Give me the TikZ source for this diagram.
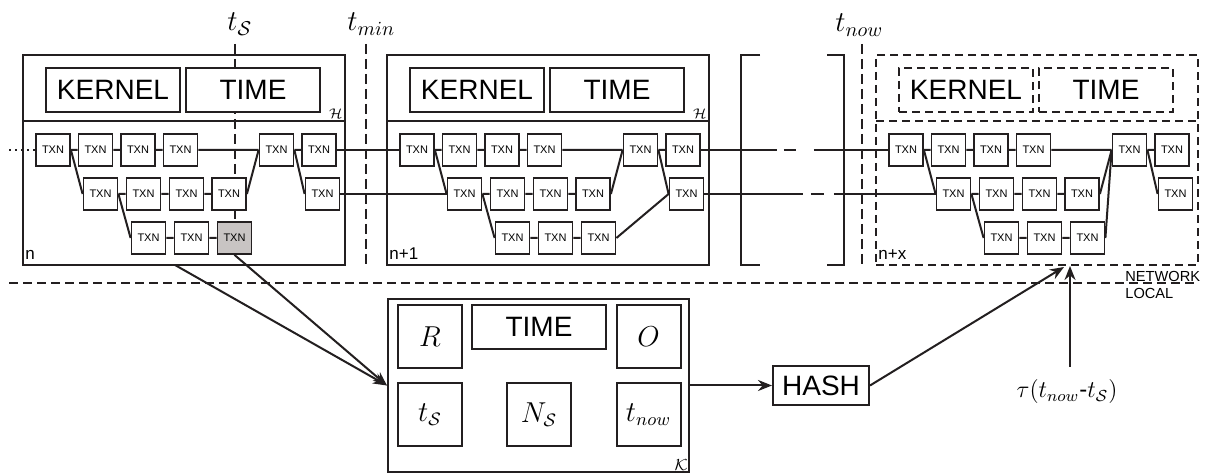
\documentclass[tikz,border=0pt]{standalone}
\usepackage{fontspec}
\setmainfont{Liberation Sans}
\usetikzlibrary{arrows.meta,backgrounds}

\definecolor{ink}{RGB}{35,31,32}
\definecolor{txngray}{RGB}{200,196,195}

\tikzset{
  wire/.style={draw=ink, line width=1pt},
  blockframe/.style={draw=ink, line width=1pt, inner sep=0pt},
  dblockframe/.style={blockframe, dash pattern=on 4pt off 2.5pt},
  hdbox/.style={blockframe, fill=white, minimum width=67pt, minimum height=22pt,
    font=\fontsize{14}{16}\selectfont},
  dhdbox/.style={hdbox, dash pattern=on 4pt off 2.5pt},
  txn/.style={blockframe, line width=0.9pt, fill=white, minimum width=17pt,
    minimum height=16pt, font=\fontsize{5.5}{6}\selectfont},
  txnshaded/.style={fill=txngray},
  txnplain/.style={},
  tline/.style={draw=ink, line width=1pt, dash pattern=on 5pt off 2.5pt},
  netline/.style={draw=ink, line width=1pt, dash pattern=on 4.5pt off 2.5pt},
  feed/.style={wire, -{Stealth[length=7pt,width=5.5pt]}},
  blabel/.style={inner xsep=1.5pt, inner ysep=3pt, font=\fontsize{8.5}{9}\selectfont},
  mlabel/.style={inner sep=1pt, font=\fontsize{7}{8}\selectfont},
  tlabel/.style={inner sep=0pt, font=\fontsize{14.5}{16}\selectfont},
  kbox/.style={blockframe, fill=white, minimum width=32pt, minimum height=31.5pt,
    font=\fontsize{13.5}{15}\selectfont},
}

% one block of the chain: frame, header boxes and the TXN graph
% #1 name prefix, #2 frame style, #3 header box style, #4 style of the last TXN
\newcommand\txnblock[4]{%
  \node[#2, minimum width=161pt, minimum height=105pt] (#1-frame) at (184,160) {};
  \draw[#2] (23,121) -- (345,121);
  \node[#3] (#1-kernel) at (113,90) {KERNEL};
  \node[#3] (#1-time) at (253,90) {TIME};
  \foreach \i/\x in {1/53,2/95.5,3/138,4/180.5,5/276.5,6/319}
    \node[txn] (#1-a\i) at (\x,150) {TXN};
  \foreach \i/\x in {1/100.5,2/143.5,3/186.5,4/229,5/322.5}
    \node[txn] (#1-b\i) at (\x,194) {TXN};
  \node[txn] (#1-c1) at (148.5,238) {TXN};
  \node[txn] (#1-c2) at (191.5,238) {TXN};
  \node[txn, #4] (#1-c3) at (234.5,238) {TXN};
  \draw[wire]
    (#1-a1.east) -- (#1-a2.west) (#1-a2.east) -- (#1-a3.west)
    (#1-a3.east) -- (#1-a4.west) (#1-a4.east) -- (#1-a5.west)
    (#1-a5.east) -- (#1-a6.west)
    (#1-b1.east) -- (#1-b2.west) (#1-b2.east) -- (#1-b3.west)
    (#1-b3.east) -- (#1-b4.west)
    (#1-c1.east) -- (#1-c2.west) (#1-c2.east) -- (#1-c3.west)
    (#1-a1.east) -- (#1-b1.west) (#1-b1.east) -- (#1-c1.west)
    (#1-b4.east) -- (#1-a5.west) (#1-a5.east) -- (#1-b5.west);
}

\begin{document}
\begin{tikzpicture}[x=0.5pt, y=-0.5pt]
\useasboundingbox (0,0) rectangle (1209,475);

% blocks n, n+1 and the pending block n+x
\txnblock{n}{blockframe}{hdbox}{txnshaded}
\begin{scope}[shift={(364,0)}]
  \txnblock{m}{blockframe}{hdbox}{txnplain}
\end{scope}
\begin{scope}[shift={(853,0)}]
  \txnblock{x}{dblockframe}{dhdbox}{txnplain}
\end{scope}

\node[blabel, anchor=south west] (n-name) at (n-frame.south west) {n};
\node[blabel, anchor=south west] (m-name) at (m-frame.south west) {n+1};
\node[blabel, anchor=south west] (x-name) at (x-frame.south west) {n+x};
\node[mlabel, anchor=south east] (n-hash) at (345,121) {$\mathcal{H}$};
\node[mlabel, anchor=south east] (m-hash) at (709,121) {$\mathcal{H}$};

% block specific links
\draw[wire] (m-c3.east) -- (m-b5.west);
\draw[wire] (x-c3.east) -- (x-a5.west);
\coordinate (past) at (9,150);
\draw[ink, line width=1pt, dotted] (past) -- (n-a1.west);
\draw[wire] (n-a6.east) -- (m-a1.west) (n-b5.east) -- (m-b1.west);
\draw[wire, dash pattern=on 38pt off 3.5pt on 6pt off 9pt on 200pt]
  (m-a6.east) -- (x-a1.west);
\draw[wire, dash pattern=on 49.25pt off 4pt on 6.5pt off 5pt on 200pt]
  (m-b5.east) -- (x-b1.west);

% elided blocks
\draw[wire] (760,55) -- (741,55) -- (741,265) -- (760,265);
\draw[wire] (827,55) -- (844,55) -- (844,265) -- (827,265);

% time marks
\node[tlabel, anchor=base west] (ts-label) at (227,31) {$t_{\mathcal{S}}$};
\node[tlabel, anchor=base west] (tmin-label) at (347,31) {$t_{min}$};
\node[tlabel, anchor=base west] (tnow-label) at (835,32) {$t_{now}$};
\coordinate (ts-top) at (234.5,44);
\coordinate (tmin-top) at (366,44);
\coordinate (tmin-bot) at (366,265);
\coordinate (tnow-top) at (862,44);
\coordinate (tnow-bot) at (862,265);
\draw[tline] (tmin-top) -- (tmin-bot);
\draw[tline] (tnow-top) -- (tnow-bot);
\begin{scope}[on background layer]
  \fill[white] (0,0) rectangle (1209,475);
  \draw[tline] (ts-top) -- (n-c3.north);
\end{scope}

% network / local split
\coordinate (split-l) at (9,283);
\coordinate (split-r) at (1198,283);
\draw[netline] (split-l) -- (split-r);
\node[inner sep=0pt, anchor=base west, font=\fontsize{7.3}{8}\selectfont]
  (net-label) at (1125,282) {NETWORK};
\node[inner sep=0pt, anchor=base west, font=\fontsize{7.3}{8}\selectfont]
  (loc-label) at (1125,299) {LOCAL};

% local kernel
\node[blockframe, minimum width=150.5pt, minimum height=86.5pt] (kap) at (538.5,385.5) {};
\node[kbox] (k-r) at (430,336.5) {$R$};
\node[hdbox] (k-time) at (539,327) {TIME};
\node[kbox] (k-o) at (648.5,336.5) {$O$};
\node[kbox] (k-ts) at (430,414.5) {$t_{\mathcal{S}}$};
\node[kbox] (k-ns) at (539,414.5) {$N_{\mathcal{S}}$};
\node[kbox] (k-tnow) at (648.5,414.5) {$t_{now}$};
\node[mlabel, anchor=south east, font=\fontsize{8}{9}\selectfont] (k-name) at (kap.south east) {$\mathcal{K}$};

\coordinate (n-foot) at (175,265);
\draw[feed] (n-foot) -- (kap.west);
\draw[feed] (n-c3.south) -- (kap.west);

\node[blockframe, minimum width=48pt, minimum height=19.5pt,
  font=\fontsize{14}{16}\selectfont] (hash) at (821,385.5) {HASH};
\draw[feed] (kap.east) -- (hash.west);

\coordinate (x-in1) at (1064,267);
\coordinate (x-in2) at (1070,266);
\coordinate (tau-top) at (1070,367);
\draw[feed] (hash.east) -- (x-in1);
\draw[feed] (tau-top) -- (x-in2);
\node[inner sep=0pt, font=\fontsize{12}{14}\selectfont] (tau) at (1067,392)
  {$\tau(t_{now}\mbox{-}t_{\mathcal{S}})$};
\end{tikzpicture}
\end{document}
